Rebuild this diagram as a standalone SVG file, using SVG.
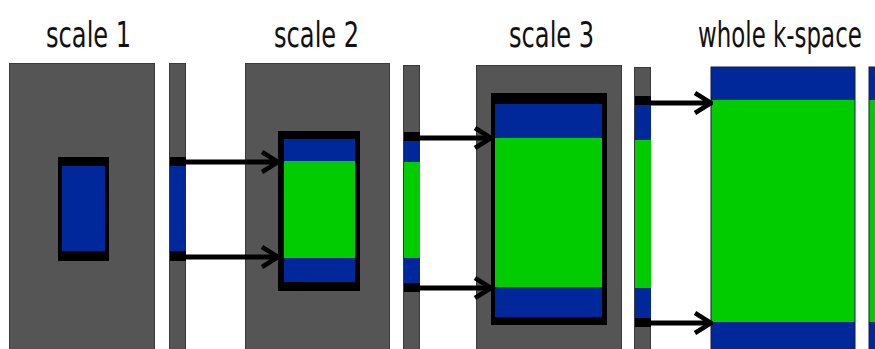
<svg xmlns="http://www.w3.org/2000/svg" width="875" height="349" viewBox="0 0 875 349">
  <style>
    .title { font-family: "DejaVu Sans", "Liberation Sans", sans-serif; font-size: 35px; fill: #111; }
    .panel { fill: #555555; stroke: #3a3a3a; stroke-width: 1; }
    .frame { fill: #000000; }
    .blue { fill: #00289a; }
    .green { fill: #00cc00; }
    .edge { stroke: #000000; stroke-width: 5; fill: none; marker-end: url(#chevron); }
  </style>
  <defs>
    <marker id="chevron" markerUnits="userSpaceOnUse" viewBox="0 0 20 24" refX="18" refY="12" markerWidth="20" markerHeight="24" orient="auto">
      <path d="M2,2 L18,12 L2,22" fill="none" stroke="#000" stroke-width="4.5" stroke-linejoin="miter"/>
    </marker>
  </defs>

  <!-- column titles (condensed horizontally) -->
  <text class="title" transform="translate(46,47) scale(0.69,1)">scale 1</text>
  <text class="title" transform="translate(274,47) scale(0.69,1)">scale 2</text>
  <text class="title" transform="translate(509,47) scale(0.69,1)">scale 3</text>
  <text class="title" transform="translate(698,47) scale(0.655,1)">whole k-space</text>

  <!-- scale 1 -->
  <g id="scale1">
    <rect class="panel" x="9.5" y="63.5" width="145" height="290"/>
    <rect class="frame" x="58" y="157" width="51" height="104"/>
    <rect class="blue" x="62" y="166" width="43" height="85"/>
  </g>
  <g id="strip1">
    <rect class="panel" x="169.5" y="63.5" width="16" height="290"/>
    <rect class="frame" x="170" y="157" width="16" height="104"/>
    <rect class="blue" x="170" y="166" width="16" height="85"/>
  </g>

  <!-- scale 2 -->
  <g id="scale2">
    <rect class="panel" x="245.5" y="63.5" width="144" height="290"/>
    <rect class="frame" x="278" y="131" width="82" height="160"/>
    <rect class="blue" x="284" y="139" width="71" height="143"/>
    <rect class="green" x="284" y="161" width="71" height="97"/>
  </g>
  <g id="strip2">
    <rect class="panel" x="403.5" y="65.5" width="16" height="290"/>
    <rect class="frame" x="404" y="132" width="16" height="160"/>
    <rect class="blue" x="404" y="141" width="16" height="142"/>
    <rect class="green" x="404" y="162" width="16" height="96"/>
  </g>

  <!-- scale 3 -->
  <g id="scale3">
    <rect class="panel" x="476.5" y="65.5" width="145" height="290"/>
    <rect class="frame" x="491" y="93" width="116" height="232"/>
    <rect class="blue" x="495" y="104" width="107" height="213"/>
    <rect class="green" x="495" y="138" width="107" height="149"/>
  </g>
  <g id="strip3">
    <rect class="panel" x="634.5" y="67.5" width="16" height="290"/>
    <rect class="frame" x="635" y="96" width="16" height="231"/>
    <rect class="blue" x="635" y="105" width="16" height="213"/>
    <rect class="green" x="635" y="140" width="16" height="148"/>
  </g>

  <!-- whole k-space -->
  <g id="kspace">
    <rect class="blue" x="711" y="67" width="144" height="290" stroke="#1a1a3a" stroke-width="1"/>
    <rect class="green" x="711.5" y="100" width="143" height="222"/>
  </g>
  <g id="kspace-strip">
    <rect class="blue" x="869" y="67" width="20" height="290" stroke="#1a1a3a" stroke-width="1"/>
    <rect class="green" x="869.5" y="100" width="19" height="222"/>
  </g>

  <!-- connectors -->
  <g id="connectors">
    <line class="edge" x1="186" y1="162" x2="278" y2="162"/>
    <line class="edge" x1="186" y1="257" x2="278" y2="257"/>
    <line class="edge" x1="420" y1="138" x2="491" y2="138"/>
    <line class="edge" x1="420" y1="288" x2="491" y2="288"/>
    <line class="edge" x1="651" y1="103" x2="711" y2="103"/>
    <line class="edge" x1="651" y1="323" x2="711" y2="323"/>
  </g>
</svg>
